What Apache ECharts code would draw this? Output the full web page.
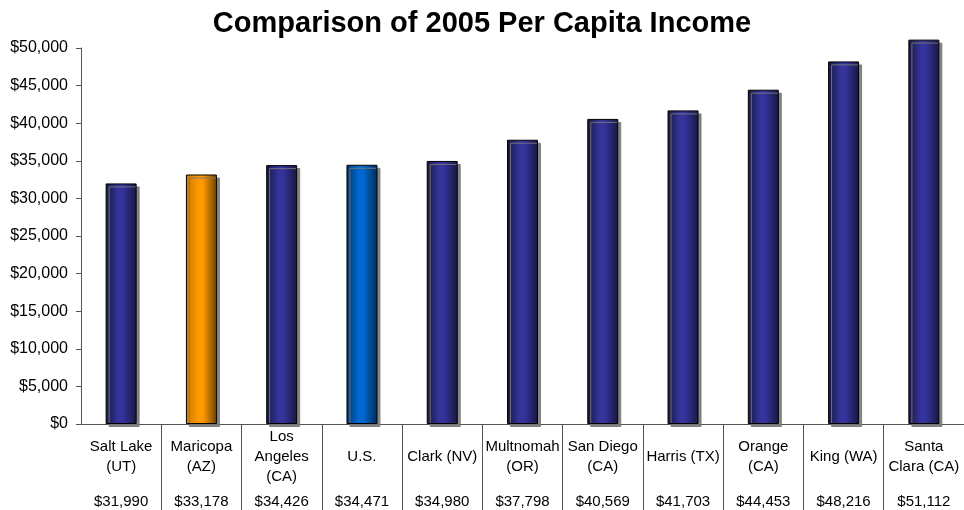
<!DOCTYPE html>
<html>
<head>
<meta charset="utf-8">
<script src="https://cdn.jsdelivr.net/npm/echarts@6/dist/echarts.min.js"></script>
<style>html,body{margin:0;padding:0;background:#fff;}#c{width:964px;height:510px;}</style>
</head>
<body>
<div id="c"></div>
<script>
var categories = ["Salt Lake\n(UT)", "Maricopa\n(AZ)", "Los\nAngeles\n(CA)", "U.S.", "Clark (NV)", "Multnomah\n(OR)", "San Diego\n(CA)", "Harris (TX)", "Orange\n(CA)", "King (WA)", "Santa\nClara (CA)"];
var incomes = [31990, 33178, 34426, 34471, 34980, 37798, 40569, 41703, 44453, 48216, 51112];
var yTicks = [0, 5000, 10000, 15000, 20000, 25000, 30000, 35000, 40000, 45000, 50000];

function money(v){ return '$' + Number(v).toLocaleString('en-US'); }
function grad(edgeL, mid, edgeR){
  return {type:'linear', x:0, y:0, x2:1, y2:0, colorStops:[
    {offset:0, color:edgeL},{offset:0.4, color:mid},{offset:0.55, color:mid},{offset:1, color:edgeR}]};
}
var navy = grad('#17173f', '#34349c', '#17173f');
var orange = grad('#c87800', '#ff9900', '#6e4200');
var blue = grad('#00356e', '#0068d0', '#002a55');

var font = '"Liberation Sans", Arial, sans-serif';
var chart = echarts.init(document.getElementById('c'), null, {renderer:'canvas'});
chart.setOption({
  animation:false,
  backgroundColor:'#fff',
  title:{text:'Comparison of 2005 Per Capita Income', left:'center', top:4,
    textStyle:{fontFamily:font, fontSize:29, fontWeight:'bold', color:'#000'}},
  grid:{left:81, top:48, width:888, height:376, containLabel:false},
  xAxis:[{
    type:'category', data:categories, position:'bottom',
    axisLine:{show:true, lineStyle:{color:'#555', width:1}},
    axisTick:{show:true, length:90, interval:function(i){return i>0;}, lineStyle:{color:'#555'}},
    axisLabel:{interval:0, margin:33, verticalAlign:'middle', fontFamily:font, fontSize:15, color:'#000', lineHeight:20}
  },{
    type:'category', data:categories, position:'bottom',
    axisLine:{show:false}, axisTick:{show:false},
    axisLabel:{interval:0, margin:78, verticalAlign:'middle', fontFamily:font, fontSize:15, color:'#000',
      formatter:function(v, i){ return money(incomes[i]); }}
  }],
  yAxis:{
    type:'value', min:0, max:50000, interval:5000,
    axisLine:{show:true, lineStyle:{color:'#555'}},
    axisTick:{show:true, length:5, lineStyle:{color:'#555'}},
    splitLine:{show:false},
    axisLabel:{margin:13, fontFamily:font, fontSize:16, color:'#000', formatter:function(v){ return money(v); }}
  },
  series:[{
    type:'bar', xAxisIndex:0, barWidth:31, clip:false,
    data: incomes.map(function(v, i){
      return {value:v, itemStyle:{color: i===1 ? orange : (i===3 ? blue : navy)}};
    }),
    itemStyle:{borderColor:'#000', borderWidth:1, shadowColor:'rgba(120,120,120,0.9)', shadowBlur:0, shadowOffsetX:3, shadowOffsetY:3}
  }]
});
</script>
</body>
</html>
